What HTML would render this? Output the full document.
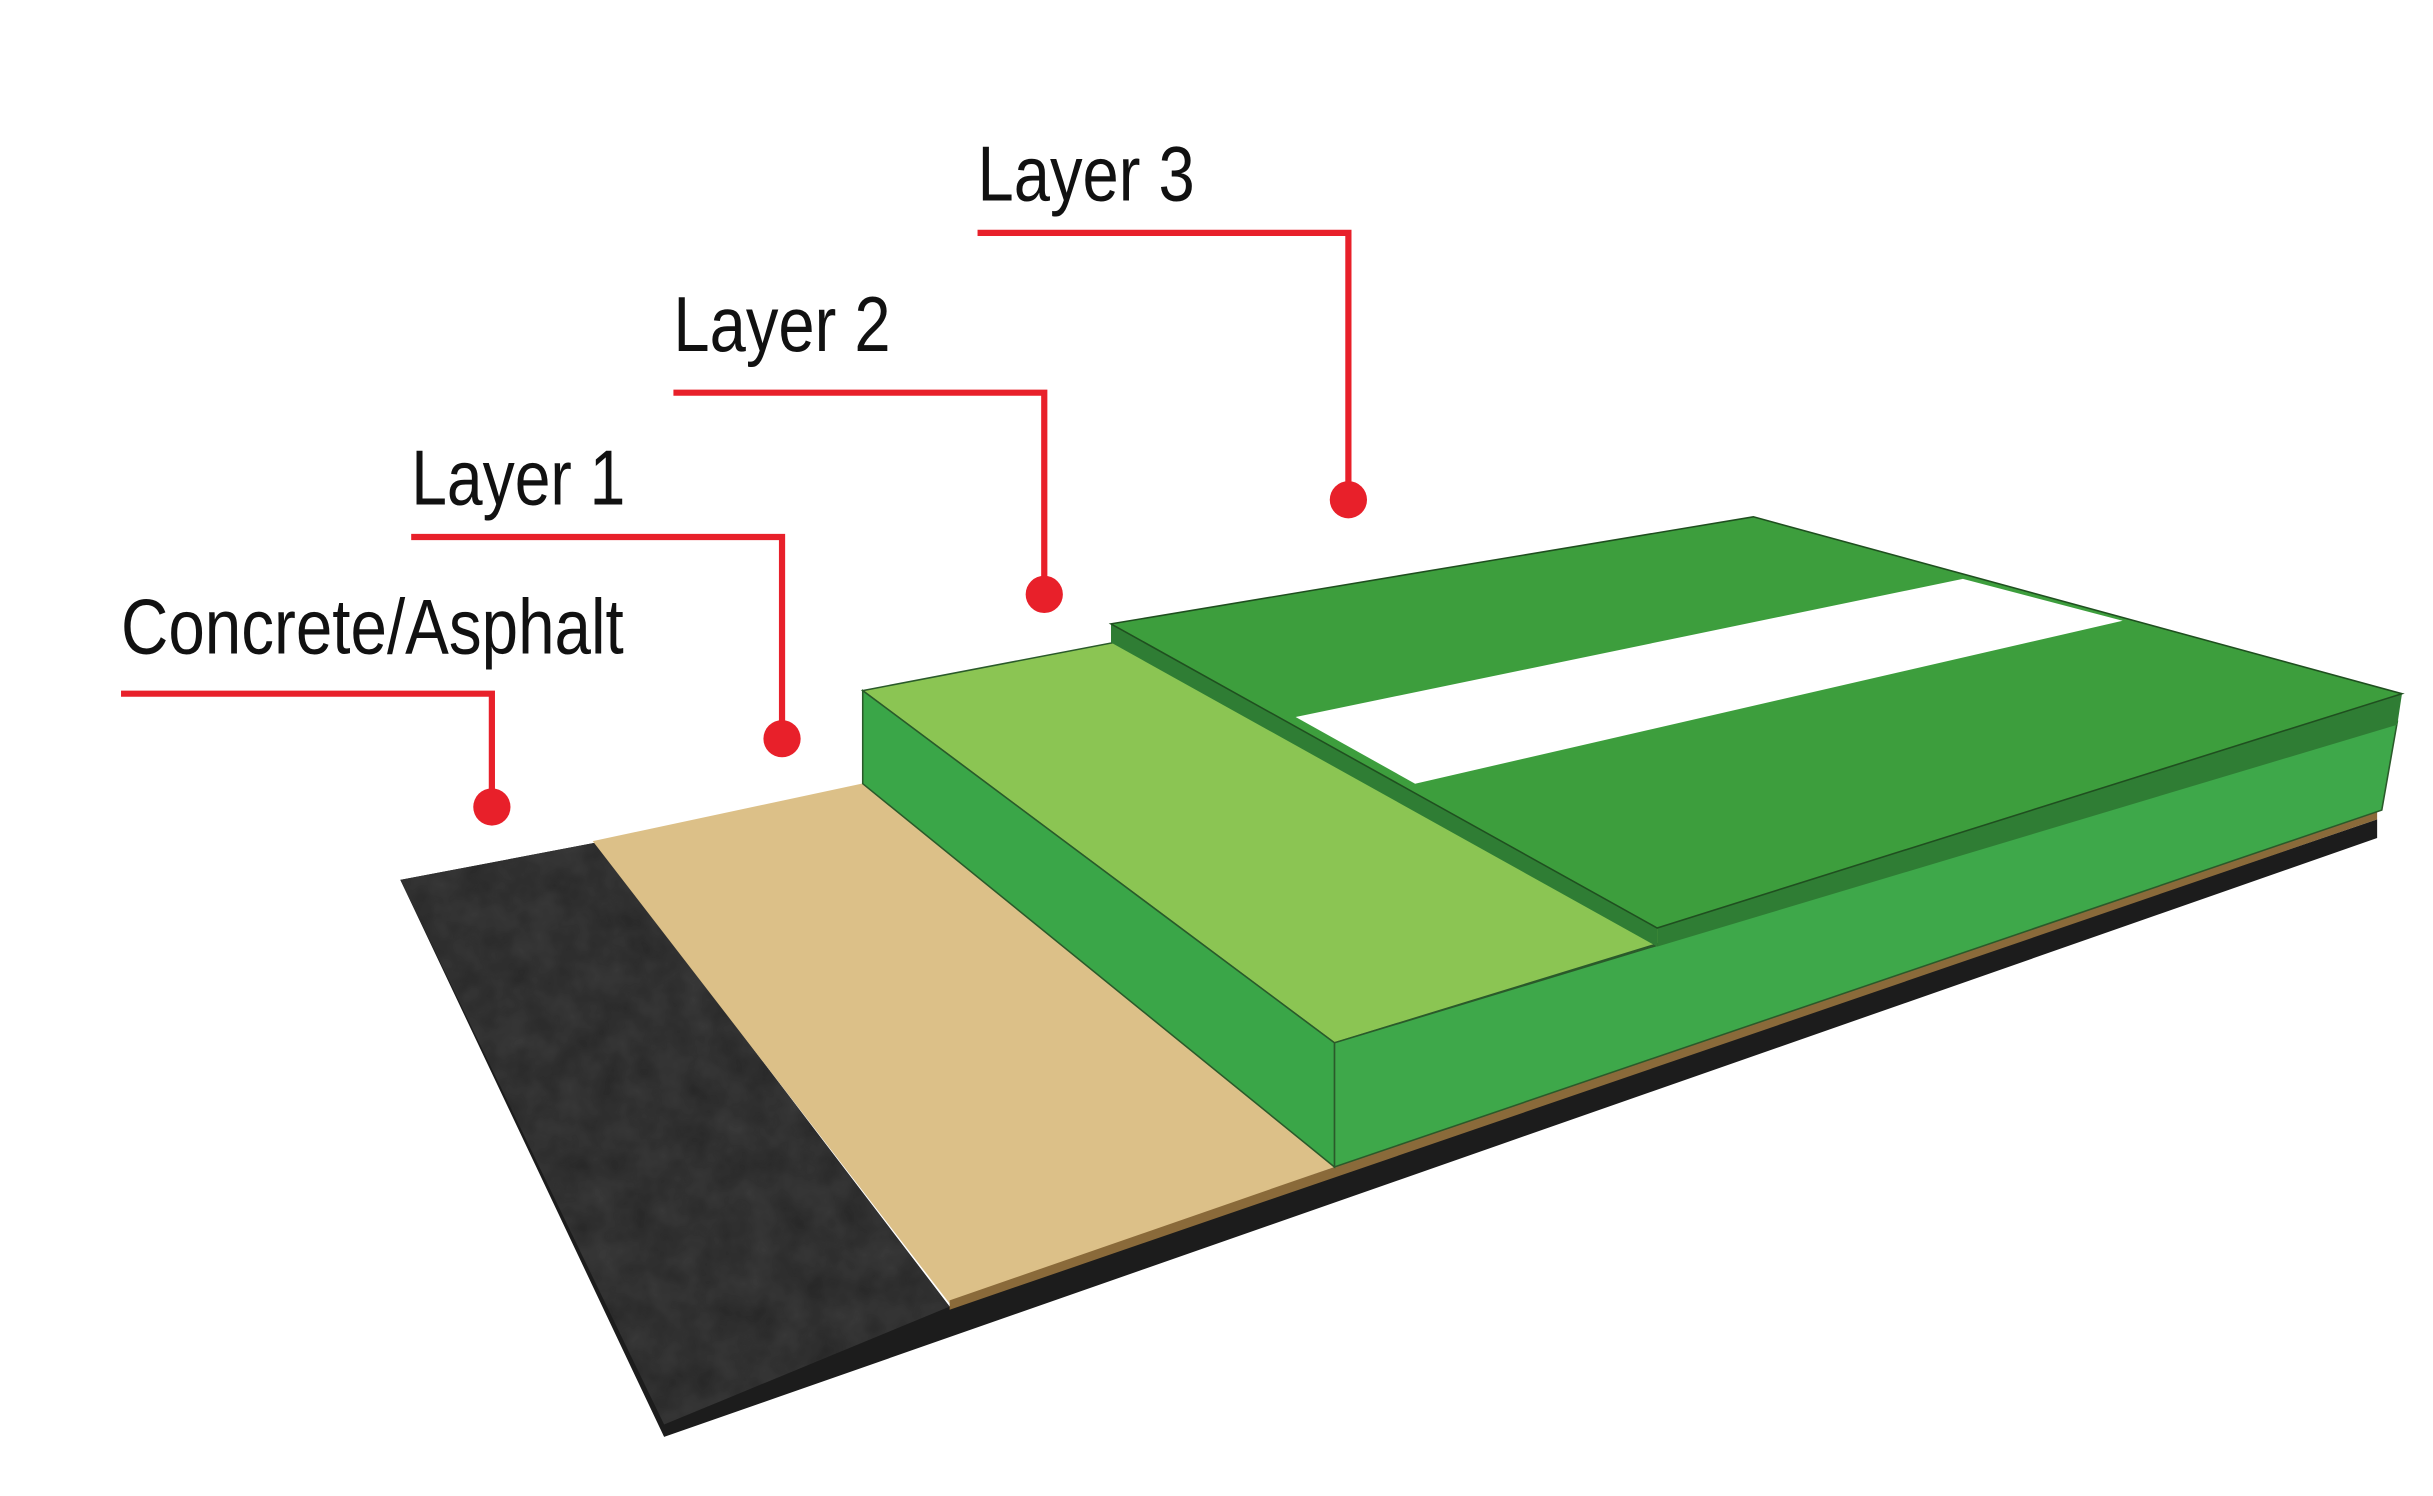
<!DOCTYPE html>
<html><head><meta charset="utf-8"><style>
html,body{margin:0;padding:0;background:#fff;width:2433px;height:1496px;overflow:hidden}
svg{display:block}
text{font-family:"Liberation Sans Narrow","Liberation Sans",sans-serif;font-size:50px;fill:#111}
</style></head><body>
<svg width="2433" height="1496" viewBox="0 0 1568 964" xmlns="http://www.w3.org/2000/svg">
<defs>
<filter id="n1"><feTurbulence type="fractalNoise" baseFrequency="0.05" numOctaves="3" seed="3"/><feColorMatrix values="0 0 0 0 0.1  0 0 0 0 0.1  0 0 0 0 0.1  0 0 0 0.7 0"/><feComposite in2="SourceGraphic" operator="in"/></filter>
</defs>
<!-- asphalt -->
<polygon points="258,567 384,543 612,842 1532,528 1532,540 428,926" fill="#1c1c1c"/>
<polygon points="258,567 384,543 612,842 428,918" fill="#262626"/>
<polygon points="258,567 384,543 612,842 428,918" fill="#000" filter="url(#n1)" opacity="0.6"/>
<!-- tan -->
<polygon points="382,542 560,504 860,752 612,840" fill="#dcc088"/>
<polygon points="612,838 860,752 1532,522 1532,528 612,844" fill="#8a6a3a"/>
<!-- layer 2 -->
<polygon points="556,445 1000,360 1545,462 860,672" fill="#8bc553" stroke="#2a5a2a" stroke-width="1"/>
<polygon points="860,672 1545,465 1535,522 860,752" fill="#3ea84a" stroke="#2a5a2a" stroke-width="1"/>
<polygon points="556,445 860,672 860,752 556,505" fill="#3aa648" stroke="#2a5a2a" stroke-width="1"/>
<!-- layer 3 -->
<polygon points="716,402 1068,598 1068,610 716,414" fill="#2f7d34"/>
<polygon points="1068,598 1548,447 1545,467 1068,610" fill="#2f7d34"/>
<polygon points="716,402 1130,333 1548,447 1068,598" fill="#3d9e3d" stroke="#1f4f1f" stroke-width="1"/>
<polygon points="835,462 1265,373 1368,400 912,505" fill="#fff"/>
<!-- leaders -->
<g stroke="#e8202a" stroke-width="4" fill="none">
<polyline points="78,447 317,447 317,520"/>
<polyline points="265,346 504,346 504,476"/>
<polyline points="434,253 673,253 673,383"/>
<polyline points="630,150 869,150 869,322"/>
</g>
<g fill="#e8202a">
<circle cx="317" cy="520" r="12"/><circle cx="504" cy="476" r="12"/>
<circle cx="673" cy="383" r="12"/><circle cx="869" cy="322" r="12"/>
</g>
<text x="78" y="421" textLength="324" lengthAdjust="spacingAndGlyphs">Concrete/Asphalt</text>
<text x="265" y="325" textLength="138" lengthAdjust="spacingAndGlyphs">Layer 1</text>
<text x="434" y="226" textLength="140" lengthAdjust="spacingAndGlyphs">Layer 2</text>
<text x="630" y="129" textLength="140" lengthAdjust="spacingAndGlyphs">Layer 3</text>
</svg>
</body></html>
